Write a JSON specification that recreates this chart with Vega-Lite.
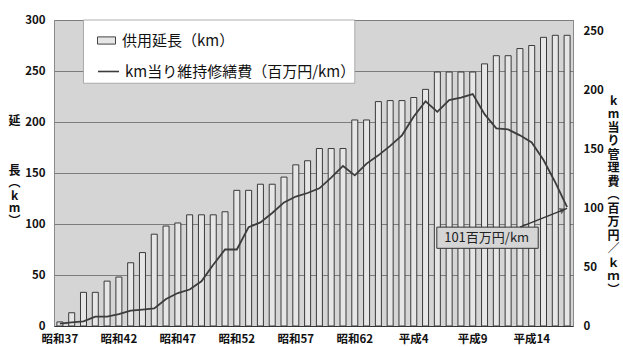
{
  "$schema": "https://vega.github.io/schema/vega-lite/v6.json",
  "autosize": {"type": "none"},
  "padding": {"left": 54, "top": 20, "right": 50, "bottom": 21},
  "width": 519,
  "height": 306,
  "background": "white",
  "config": {
    "view": {"fill": "#d5d5d5", "stroke": "#8a8a8a", "strokeWidth": 1},
    "font": "Noto Sans CJK JP",
    "axis": {"labelFont": "Noto Sans CJK JP", "titleFont": "Noto Sans CJK JP", "labelColor": "#111", "titleColor": "#111"},
    "legend": {"labelFont": "Noto Sans CJK JP", "labelColor": "#111"}
  },
  "datasets": {
    "main": [
      {"nen": "昭和37", "km": 4, "cost": 2},
      {"nen": "昭和38", "km": 13, "cost": 3},
      {"nen": "昭和39", "km": 33, "cost": 4},
      {"nen": "昭和40", "km": 33, "cost": 8},
      {"nen": "昭和41", "km": 44, "cost": 8},
      {"nen": "昭和42", "km": 48, "cost": 10},
      {"nen": "昭和43", "km": 62, "cost": 13},
      {"nen": "昭和44", "km": 72, "cost": 14},
      {"nen": "昭和45", "km": 90, "cost": 15},
      {"nen": "昭和46", "km": 98, "cost": 23},
      {"nen": "昭和47", "km": 101, "cost": 28},
      {"nen": "昭和48", "km": 109, "cost": 31},
      {"nen": "昭和49", "km": 109, "cost": 38},
      {"nen": "昭和50", "km": 109, "cost": 52},
      {"nen": "昭和51", "km": 112, "cost": 65},
      {"nen": "昭和52", "km": 133, "cost": 65},
      {"nen": "昭和53", "km": 133, "cost": 84},
      {"nen": "昭和54", "km": 139, "cost": 88},
      {"nen": "昭和55", "km": 139, "cost": 96},
      {"nen": "昭和56", "km": 146, "cost": 105},
      {"nen": "昭和57", "km": 158, "cost": 110},
      {"nen": "昭和58", "km": 162, "cost": 113},
      {"nen": "昭和59", "km": 174, "cost": 117},
      {"nen": "昭和60", "km": 174, "cost": 126},
      {"nen": "昭和61", "km": 174, "cost": 136},
      {"nen": "昭和62", "km": 202, "cost": 128},
      {"nen": "昭和63", "km": 202, "cost": 138},
      {"nen": "平成1", "km": 220, "cost": 145},
      {"nen": "平成2", "km": 221, "cost": 153},
      {"nen": "平成3", "km": 221, "cost": 162},
      {"nen": "平成4", "km": 224, "cost": 178},
      {"nen": "平成5", "km": 232, "cost": 191},
      {"nen": "平成6", "km": 249, "cost": 182},
      {"nen": "平成7", "km": 249, "cost": 192},
      {"nen": "平成8", "km": 249, "cost": 194},
      {"nen": "平成9", "km": 249, "cost": 197},
      {"nen": "平成10", "km": 257, "cost": 180},
      {"nen": "平成11", "km": 265, "cost": 168},
      {"nen": "平成12", "km": 265, "cost": 167},
      {"nen": "平成13", "km": 272, "cost": 162},
      {"nen": "平成14", "km": 275, "cost": 156},
      {"nen": "平成15", "km": 283, "cost": 141},
      {"nen": "平成16", "km": 285, "cost": 122},
      {"nen": "平成17", "km": 285, "cost": 101}
    ]
  },
  "data": {"name": "main"},
  "layer": [
    {
      "layer": [
        {
          "mark": {"type": "bar", "size": 6, "stroke": "#3a3a3a", "strokeWidth": 1},
          "encoding": {
            "x": {
              "field": "nen", "type": "nominal", "sort": null,
              "scale": {"domain": ["昭和37","昭和38","昭和39","昭和40","昭和41","昭和42","昭和43","昭和44","昭和45","昭和46","昭和47","昭和48","昭和49","昭和50","昭和51","昭和52","昭和53","昭和54","昭和55","昭和56","昭和57","昭和58","昭和59","昭和60","昭和61","昭和62","昭和63","平成1","平成2","平成3","平成4","平成5","平成6","平成7","平成8","平成9","平成10","平成11","平成12","平成13","平成14","平成15","平成16","平成17"]},
              "axis": {
                "title": null, "ticks": false, "grid": false, "labelAngle": 0, "labelOverlap": false,
                "labelExpr": "indexof(['昭和37','昭和42','昭和47','昭和52','昭和57','昭和62','平成4','平成9','平成14'], datum.label) >= 0 ? datum.label : ''",
                "labelPadding": 7, "labelFontSize": 11.5, "labelFontWeight": "bold",
                "domainColor": "#333", "domainWidth": 1.2
              }
            },
            "y": {
              "field": "km", "type": "quantitative",
              "scale": {"domain": [0, 300]},
              "axis": {
                "orient": "left", "values": [0, 50, 100, 150, 200, 250, 300],
                "grid": true, "gridColor": "#7d7d7d", "gridWidth": 1,
                "domain": false, "ticks": false, "labelPadding": 9,
                "labelFontSize": 11.5, "labelFontWeight": "bold",
                "title": ["延", "\u200b", "\u200c", "\u200d", "長", "︵", "k", "m", "︶"],
                "titleAngle": 0, "titleX": -40, "titleY": 95, "titleBaseline": "top",
                "titleAlign": "center", "titleFontSize": 12, "titleFontWeight": "bold",
                "titleLineHeight": 12.5
              }
            },
            "fill": {
              "datum": "供用延長（km）", "type": "nominal",
              "scale": {"range": ["#e6e6e6"]},
              "legend": {
                "orient": "none", "legendX": 43, "legendY": 11, "title": null, "padding": 0,
                "symbolType": "M-1,-0.4H1V0.4H-1Z", "symbolSize": 324,
                "symbolStrokeColor": "#444", "symbolStrokeWidth": 1,
                "labelFontSize": 15, "labelOffset": 6, "labelLimit": 400
              }
            }
          }
        },
        {
          "data": {"values": [{"a": "昭和39", "b": "昭和62", "lo": 238, "hi": 300}]},
          "mark": {"type": "rect", "fill": "white", "stroke": "#9a9a9a", "strokeWidth": 0.8},
          "encoding": {
            "x": {"field": "a", "type": "nominal", "bandPosition": 0.5},
            "x2": {"field": "b", "bandPosition": 0.5},
            "y": {"field": "lo", "type": "quantitative"},
            "y2": {"field": "hi"}
          }
        }
      ]
    },
    {
      "layer": [
        {
          "mark": {"type": "line", "strokeWidth": 1.8},
          "encoding": {
            "x": {"field": "nen", "type": "nominal", "sort": null},
            "y": {
              "field": "cost", "type": "quantitative",
              "scale": {"domain": [0, 250]},
              "axis": {
                "orient": "right", "values": [0, 50, 100, 150, 200, 250],
                "grid": false, "domain": false, "ticks": false, "labelPadding": 10,
                "labelFontSize": 11.5, "labelFontWeight": "bold",
                "title": ["k", "m", "当", "り", "管", "理", "費", "︵", "百", "万", "円", "／", "ｋ", "ｍ", "︶"],
                "titleAngle": 0, "titleX": 40, "titleY": 75, "titleBaseline": "top",
                "titleAlign": "center", "titleFontSize": 12, "titleFontWeight": "bold",
                "titleLineHeight": 13.5
              }
            },
            "stroke": {
              "datum": "km当り維持修繕費（百万円/km）", "type": "nominal",
              "scale": {"range": ["#3c3c3c"]},
              "legend": {
                "orient": "none", "legendX": 43, "legendY": 40, "title": null, "padding": 0,
                "symbolType": "stroke", "symbolSize": 441, "symbolStrokeWidth": 1.6,
                "labelFontSize": 15, "labelOffset": 5, "labelLimit": 400
              }
            }
          }
        },
        {
          "data": {"values": [{"xa": "平成13", "xb": "平成17", "ya": 84, "yb": 100}]},
          "mark": {"type": "rule", "color": "#333", "strokeWidth": 1.3},
          "encoding": {
            "x": {"field": "xa", "type": "nominal"},
            "x2": {"field": "xb"},
            "y": {"field": "ya", "type": "quantitative"},
            "y2": {"field": "yb"}
          }
        },
        {
          "data": {"values": [{"xa": "平成17", "ya": 98.6}]},
          "mark": {"type": "point", "shape": "triangle-right", "filled": true, "color": "#333", "size": 45, "angle": -23},
          "encoding": {
            "x": {"field": "xa", "type": "nominal", "bandPosition": 0.1},
            "y": {"field": "ya", "type": "quantitative"}
          }
        },
        {
          "data": {"values": [{"xa": "平成6", "xb": "平成15", "ya": 66, "yb": 84}]},
          "mark": {"type": "rect", "fill": "#d5d5d5", "stroke": "#333", "strokeWidth": 1},
          "encoding": {
            "x": {"field": "xa", "type": "nominal", "bandPosition": 0.45},
            "x2": {"field": "xb", "bandPosition": 0},
            "y": {"field": "ya", "type": "quantitative"},
            "y2": {"field": "yb"}
          }
        },
        {
          "data": {"values": [{"xa": "平成10", "ya": 75, "t": "101百万円/km"}]},
          "mark": {"type": "text", "fontSize": 13, "color": "#222", "align": "center", "baseline": "middle"},
          "encoding": {
            "x": {"field": "xa", "type": "nominal", "bandPosition": 0.7},
            "y": {"field": "ya", "type": "quantitative"},
            "text": {"field": "t"}
          }
        }
      ]
    }
  ],
  "resolve": {"scale": {"y": "independent"}}
}
